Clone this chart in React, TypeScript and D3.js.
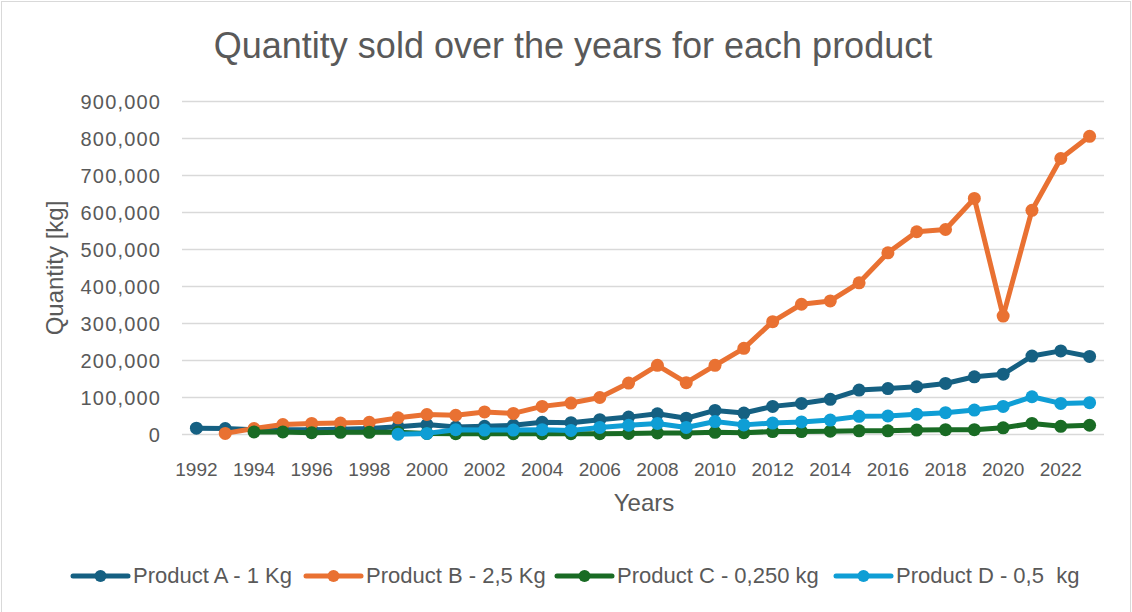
import React from "react";
import * as d3 from "d3";

const years: number[] = d3.range(1992, 2024);
const yTicks: number[] = [0, 100000, 200000, 300000, 400000, 500000, 600000, 700000, 800000, 900000];
const xTickYears: number[] = d3.range(1992, 2024, 2);

const productA: (number | null)[] = [17000, 16000, 13000, 13000, 13000, 14000, 16000, 21000, 27000, 20000, 22000, 25000, 33000, 32000, 40000, 47000, 56000, 44000, 65000, 58000, 76000, 84000, 95000, 120000, 124000, 129000, 138000, 156000, 163000, 212000, 226000, 211000];
const productB: (number | null)[] = [null, 3000, 16000, 27000, 30000, 31000, 33000, 45000, 54000, 52000, 61000, 57000, 76000, 85000, 100000, 139000, 187000, 140000, 187000, 233000, 305000, 352000, 361000, 410000, 491000, 548000, 554000, 638000, 320000, 606000, 746000, 806000];
const productC: (number | null)[] = [null, null, 7000, 7000, 5000, 6000, 6000, 6000, 3000, 2000, 2000, 2000, 2000, 2000, 2000, 3000, 4000, 4000, 6000, 5000, 8000, 8000, 9000, 10000, 10000, 12000, 13000, 13000, 18000, 30000, 22000, 25000];
const productD: (number | null)[] = [null, null, null, null, null, null, null, 1000, 3000, 13000, 12000, 12000, 13000, 11000, 19000, 25000, 30000, 19000, 35000, 26000, 31000, 34000, 39000, 49000, 50000, 55000, 59000, 66000, 76000, 102000, 84000, 86000];

const seriesNames: string[] = ["Product A - 1 Kg", "Product B - 2,5 Kg", "Product C - 0,250 kg", "Product D - 0,5  kg"];
const seriesColors: string[] = ["#156082", "#E97132", "#196B24", "#0F9ED5"];

const W = 1132;
const H = 612;
const FONT = "'Liberation Sans', Arial, sans-serif";
const TXT = "#595959";

export default function App() {
  const x = d3.scalePoint<number>().domain(years).range([182, 1104]).padding(0.5);
  const y = d3.scaleLinear().domain([0, 900000]).range([434.5, 101.5]);
  const fmt = d3.format(",");
  const allSeries = [productA, productB, productC, productD];

  const line = d3
    .line<[number, number | null]>()
    .defined((d) => d[1] !== null)
    .x((d) => x(d[0]) as number)
    .y((d) => y(d[1] as number));

  const legendX = [73, 306, 557, 836];

  return (
    <svg width={W} height={H} style={{ position: "absolute", left: 0, top: 0, background: "#fff" }} fontFamily={FONT}>
      <rect x={1.5} y={1.5} width={W - 3} height={H + 10} fill="#fff" stroke="#D9D9D9" strokeWidth={1} />
      <text x={573} y={58} textAnchor="middle" fontSize={36} fill={TXT}>
        Quantity sold over the years for each product
      </text>
      {yTicks.map((t) => (
        <g key={t}>
          <line x1={182} x2={1104} y1={y(t)} y2={y(t)} stroke="#D9D9D9" strokeWidth={1.5} />
          <text x={161.2} y={y(t) + 7} textAnchor="end" fontSize={20} letterSpacing={1.2} fill={TXT}>
            {fmt(t)}
          </text>
        </g>
      ))}
      {xTickYears.map((yr) => (
        <text key={yr} x={x(yr) as number} y={476} textAnchor="middle" fontSize={19} fill={TXT}>
          {yr}
        </text>
      ))}
      <text x={644} y={511} textAnchor="middle" fontSize={24} fill={TXT}>
        Years
      </text>
      <text transform={`translate(63,268) rotate(-90)`} textAnchor="middle" fontSize={24} fill={TXT}>
        Quantity [kg]
      </text>
      {allSeries.map((s, i) => {
        const pts: [number, number | null][] = years.map((yr, j) => [yr, s[j]]);
        return (
          <g key={i}>
            <path d={line(pts) || ""} fill="none" stroke={seriesColors[i]} strokeWidth={5} strokeLinejoin="round" strokeLinecap="round" />
            {pts
              .filter((p) => p[1] !== null)
              .map((p) => (
                <circle key={p[0]} cx={x(p[0]) as number} cy={y(p[1] as number)} r={6.5} fill={seriesColors[i]} />
              ))}
          </g>
        );
      })}
      {seriesNames.map((n, i) => (
        <g key={n}>
          <line x1={legendX[i]} x2={legendX[i] + 55} y1={576} y2={576} stroke={seriesColors[i]} strokeWidth={5} strokeLinecap="round" />
          <circle cx={legendX[i] + 27.5} cy={576} r={6} fill={seriesColors[i]} />
          <text x={legendX[i] + 60} y={582.5} fontSize={22} fill={TXT} style={{ whiteSpace: "pre" }}>
            {n}
          </text>
        </g>
      ))}
    </svg>
  );
}
